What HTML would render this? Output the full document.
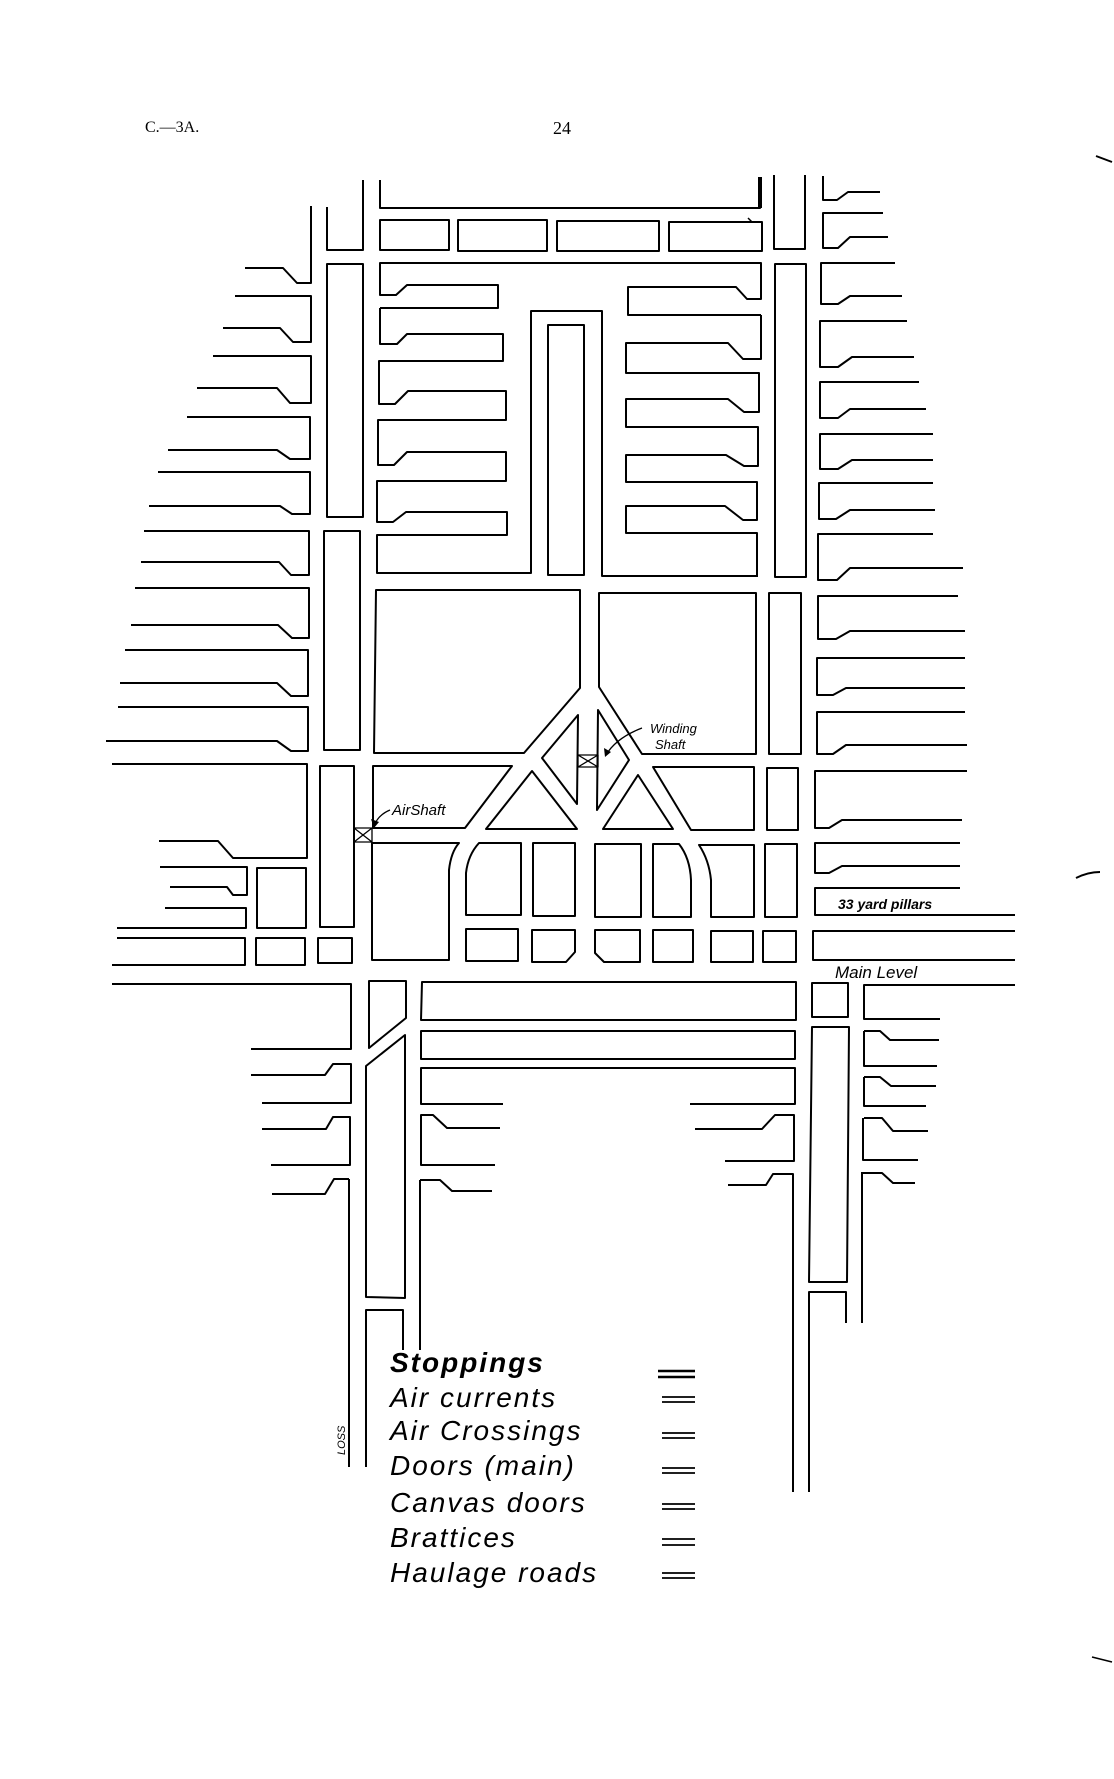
<!DOCTYPE html>
<html><head><meta charset="utf-8"><style>
html,body{margin:0;padding:0;background:#fff;}
svg{display:block;}
text{font-family:"Liberation Sans",sans-serif;fill:#000;}
</style></head><body>
<svg width="1114" height="1779" viewBox="0 0 1114 1779" xmlns="http://www.w3.org/2000/svg">
<g fill="none" stroke="#000" stroke-width="2" stroke-linejoin="round">
<!-- left fingers -->
<path d="M311,206 V283 H297 L283,268 H245"/>
<path d="M235,296 H311 V342 H293 L280,328 H223"/>
<path d="M213,356 H311 V403 H290 L277,388 H197"/>
<path d="M187,417 H310 V459 H290 L277,450 H168"/>
<path d="M158,472 H310 V514 H292 L280,506 H149"/>
<path d="M144,531 H309 V575 H291 L279,562 H141"/>
<path d="M135,588 H309 V638 H292 L278,625 H131"/>
<path d="M125,650 H308 V696 H291 L277,683 H120"/>
<path d="M118,707 H308 V751 H291 L277,741 H106"/>
<path d="M112,764 H307 V858 H233 L218,841 H159"/>
<path d="M160,867 H247 V895 H233 L227,887 H170"/>
<path d="M165,908 H246 V928 H117"/>
<path d="M117,938 H245 V965 H112"/>
<path d="M112,984 H351 V1049 H251"/>
<rect x="257" y="868" width="49" height="60"/>
<rect x="256" y="938" width="49" height="27"/>
<!-- left column -->
<path d="M327,207 V250 H363 V180"/>
<rect x="327" y="264" width="36" height="253"/>
<rect x="324" y="531" width="36" height="219"/>
<rect x="320" y="766" width="34" height="161"/>
<rect x="318" y="938" width="34" height="25"/>
<!-- top -->
<path d="M380,180 V208 H760 V177"/>
<path d="M760,177 V208" stroke-width="4"/>
<rect x="380" y="220" width="69" height="30"/>
<rect x="458" y="220" width="89" height="31"/>
<rect x="557" y="221" width="102" height="30"/>
<rect x="669" y="222" width="93" height="29"/>
<path d="M752,222 L748,218" stroke-width="1.5"/>
<!-- interior E shapes -->
<path d="M380,308 H498 V285 H407 L396,295 H380 V263 H761 V299 H747 L736,287 H628 V315 H761"/>
<path d="M380,308 V344 H397 L407,334 H503 V361 H379 V404 H395 L408,391 H506 V420 H378 V465 H394 L407,452 H506 V481 H377 V522 H393 L406,512 H507 V535 H377 V573 H531 V311 H602 V576 H757"/>
<path d="M761,315 V359 H743 L728,343 H626 V373 H759 V412 H744 L728,399 H626 V427 H758 V466 H744 L726,455 H626 V482 H757 V520 H743 L725,506 H626 V533 H757 V577"/>
<rect x="548" y="325" width="36" height="250"/>
<!-- right column -->
<path d="M774,175 V249 H805 V175"/>
<rect x="775" y="264" width="31" height="313"/>
<rect x="769" y="593" width="32" height="161"/>
<rect x="767" y="768" width="31" height="62"/>
<rect x="765" y="844" width="32" height="73"/>
<rect x="763" y="931" width="33" height="31"/>
<!-- big blocks -->
<path d="M376,590 H580 V688 L524,753 H374 Z"/>
<path d="M599,593 H756 V754 H642 L599,687 Z"/>
<path d="M373,766 H512 L465,828 H373 Z"/>
<path d="M532,771 L486,829 H577 Z"/>
<path d="M578,715 L542,758 L577,804 Z"/>
<path d="M598,710 L629,760 L597,810 Z"/>
<path d="M638,775 L603,829 H673 Z"/>
<path d="M653,767 H754 V830 H691 Z"/>
<!-- shaft X marks -->
<path d="M354,828 H372 V842 H354 Z M354,828 L372,842 M372,828 L354,842" stroke-width="1.3"/>
<path d="M578,755 H598 V767 H578 Z M578,755 L598,767 M598,755 L578,767" stroke-width="1.3"/>
<!-- row 3 -->
<path d="M372,843 H459 Q451,852 449,870 V960 H372 Z"/>
<path d="M479,843 H521 V915 H466 V873 Q468,855 479,843 Z"/>
<rect x="533" y="843" width="42" height="73"/>
<rect x="595" y="844" width="46" height="73"/>
<path d="M653,844 H679 Q690,858 691,880 V917 H653 Z"/>
<path d="M699,845 H754 V917 H711 V880 Q709,860 699,845 Z"/>
<!-- row 4 -->
<rect x="466" y="929" width="52" height="32"/>
<path d="M532,930 H575 V952 L566,962 H532 Z"/>
<path d="M595,930 H640 V962 H604 L595,953 Z"/>
<rect x="653" y="930" width="40" height="32"/>
<rect x="711" y="931" width="42" height="31"/>
<!-- right fingers -->
<path d="M823,176 V200 H837 L848,192 H880"/>
<path d="M883,213 H823 V248 H838 L850,237 H888"/>
<path d="M895,263 H821 V304 H838 L850,296 H902"/>
<path d="M907,321 H820 V367 H838 L852,357 H914"/>
<path d="M919,382 H820 V418 H838 L850,409 H926"/>
<path d="M933,434 H820 V469 H838 L852,460 H933"/>
<path d="M933,483 H819 V519 H836 L850,510 H935"/>
<path d="M933,534 H818 V580 H837 L850,568 H963"/>
<path d="M958,596 H818 V639 H836 L850,631 H965"/>
<path d="M965,658 H817 V695 H833 L846,688 H965"/>
<path d="M965,712 H817 V754 H833 L846,745 H967"/>
<path d="M967,771 H815 V828 H829 L842,820 H962"/>
<path d="M960,843 H815 V873 H829 L842,866 H960"/>
<path d="M960,888 H815 V915 H1015"/>
<path d="M1015,931 H813 V960 H1015"/>
<path d="M1015,985 H864 V1019 H940"/>
<!-- below main level, left -->
<path d="M369,981 H406 V1018 L369,1048 Z"/>
<path d="M366,1297 V1066 L405,1035 V1298 Z"/>
<path d="M366,1467 V1310 H403 V1350"/>
<path d="M349,1179 V1467"/>
<path d="M420,1180 V1350"/>
<path d="M251,1075 H325 L333,1064 H351 V1103 H262"/>
<path d="M262,1129 H326 L333,1117 H350 V1165 H271"/>
<path d="M272,1194 H325 L334,1179 H349"/>
<path d="M422,982 H796 V1020 H421 Z"/>
<path d="M421,1031 H795 V1059 H421 Z"/>
<path d="M503,1104 H421 V1068 H795 V1104 H690"/>
<path d="M500,1128 H447 L433,1115 H421 V1165 H495"/>
<path d="M492,1191 H452 L440,1180 H420"/>
<!-- below main level, right -->
<path d="M695,1129 H762 L775,1115 H794 V1161 H725"/>
<path d="M728,1185 H766 L773,1174 H793 V1492"/>
<rect x="812" y="983" width="36" height="34"/>
<path d="M812,1027 H849 L847,1282 H809 Z"/>
<path d="M809,1492 V1292 H846 V1323"/>
<path d="M862,1172 V1323"/>
<path d="M864,1031 H880 L890,1040 H939"/>
<path d="M864,1031 V1066 H937"/>
<path d="M864,1077 H880 L891,1086 H936"/>
<path d="M864,1077 V1106 H926"/>
<path d="M864,1118 H882 L893,1131 H928"/>
<path d="M863,1118 V1160 H918"/>
<path d="M863,1173 H882 L893,1183 H915"/>
<!-- arrows -->
<path d="M390,810 Q378,815 374,826" stroke-width="1.3"/>
<path d="M642,728 Q616,738 606,755" stroke-width="1.3"/>
<!-- legend symbols -->
<path d="M658,1371 H695 M658,1377 H695" stroke-width="2.6"/>
<path d="M662,1397 H695 M662,1402 H695 M662,1433 H695 M662,1438 H695 M662,1468 H695 M662,1473 H695 M662,1504 H695 M662,1509 H695 M662,1539 H695 M662,1545 H695 M662,1573 H695 M662,1578 H695" stroke-width="1.8"/>
<!-- page marks -->
<path d="M1096,156 L1112,162" stroke-width="2"/>
<path d="M1076,878 Q1088,872 1100,872" stroke-width="2"/>
<path d="M1092,1657 L1112,1662" stroke-width="1.5"/>
</g>
<polygon points="374,828 371,819 379,822" fill="#000"/>
<polygon points="605,757 604,748 611,752" fill="#000"/>
<text x="145" y="132" font-size="16" style="font-family:'Liberation Serif',serif">C.—3A.</text>
<text x="553" y="134" font-size="18" style="font-family:'Liberation Serif',serif">24</text>
<text x="392" y="815" font-size="15" font-style="italic">AirShaft</text>
<text x="650" y="733" font-size="13" font-style="italic">Winding</text>
<text x="655" y="749" font-size="13" font-style="italic">Shaft</text>
<text x="838" y="909" font-size="14" font-style="italic" font-weight="bold">33 yard pillars</text>
<text x="835" y="978" font-size="17" font-style="italic">Main Level</text>
<text x="0" y="0" font-size="11" font-style="italic" transform="translate(345,1455) rotate(-90)">LOSS</text>
<g font-size="28" font-style="italic" letter-spacing="2">
<text x="390" y="1372" font-weight="bold">Stoppings</text>
<text x="390" y="1407">Air currents</text>
<text x="390" y="1440">Air Crossings</text>
<text x="390" y="1475">Doors (main)</text>
<text x="390" y="1512">Canvas doors</text>
<text x="390" y="1547">Brattices</text>
<text x="390" y="1582">Haulage roads</text>
</g>
</svg>
</body></html>
